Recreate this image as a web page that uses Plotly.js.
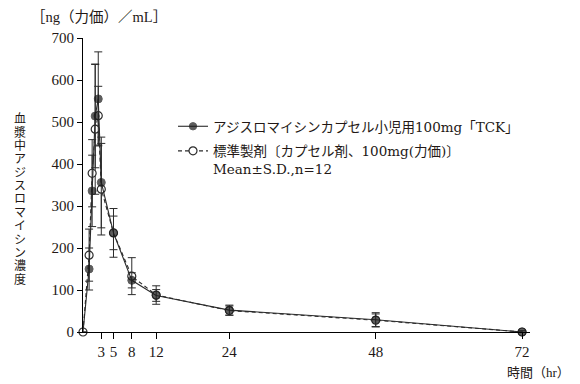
<!DOCTYPE html>
<html>
<head>
<meta charset="utf-8">
<script src="https://cdn.plot.ly/plotly-3.0.1.min.js"></script>
<style>
  html, body { margin: 0; padding: 0; background: #fff; }
  #chart { width: 580px; height: 384px; }
</style>
</head>
<body>
<div id="chart"></div>
<script>
// ---- data ----
const times   = [0, 1, 1.5, 2, 2.5, 3, 5, 8, 12, 24, 48, 72];
const tckMean = [0, 150, 336, 514, 555, 356, 236, 123, 87, 52, 29, 0];
const tckSD   = [0, 50, 85, 123, 112, 108, 40, 18, 14, 12, 17, 3];
const stdMean = [0, 183, 378, 483, 515, 340, 236, 133, 88, 51, 28, 0];
const stdSD   = [0, 62, 80, 155, 70, 109, 58, 44, 22, 11, 15, 3];
const xTicks  = [3, 5, 8, 12, 24, 48, 72];
const yTicks  = [0, 100, 200, 300, 400, 500, 600, 700];
const tckName = 'アジスロマイシンカプセル小児用100mg「TCK」';
const stdName = '標準製剤〔カプセル剤、100mg(力価)〕<br>Mean±S.D.,n=12';
const yTitle  = '血漿中アジスロマイシン濃度';
const unitText = '［ng（力価）／mL］';
const xTitle  = '時間（hr）';

const FONT = '"Liberation Serif", "Noto Sans CJK JP", serif';
const LEGFONT = '"DejaVu Serif", "Noto Sans CJK JP", serif';
const INK = '#231815';
const LINE = '#2b2b2b';

const stdTrace = {
  x: times, y: stdMean, name: stdName, type: 'scatter', mode: 'lines+markers',
  legendgroup: 'std', legendrank: 2, cliponaxis: false,
  line: { color: LINE, width: 1.1, dash: '4px,3px' },
  marker: { symbol: 'circle', size: 8, color: '#ffffff', line: { color: LINE, width: 1.2 } },
  error_y: { type: 'data', array: stdSD, visible: true, color: LINE, thickness: 1, width: 4 }
};
const tckTrace = {
  x: times, y: tckMean, name: tckName, type: 'scatter', mode: 'lines+markers',
  legendgroup: 'tck', legendrank: 1, cliponaxis: false,
  line: { color: LINE, width: 1.1 },
  marker: { symbol: 'circle', size: times.map(t => t === 0 ? 0 : 8), color: '#1a1a1a', line: { color: '#1a1a1a', width: 1 } },
  error_y: { type: 'data', array: tckSD, visible: true, color: LINE, thickness: 1, width: 4 }
};

// vertical (stacked) y-axis title, one character per line
const annotations = [];
const chars = Array.from(yTitle);
const plotTop = 38, plotH = 294, plotLeft = 83, plotW = 447;
const firstY = 119, stepY = 13.4;
chars.forEach((c, i) => {
  const py = firstY + i * stepY;
  annotations.push({
    xref: 'paper', yref: 'paper',
    x: (20 - plotLeft) / plotW, y: (plotTop + plotH - py) / plotH,
    xanchor: 'center', yanchor: 'middle', showarrow: false,
    text: c, font: { family: FONT, size: 12, color: INK }
  });
});
annotations.push({
  xref: 'paper', yref: 'paper',
  x: (29 - plotLeft) / plotW, y: (plotTop + plotH - 17) / plotH,
  xanchor: 'left', yanchor: 'middle', showarrow: false,
  text: unitText, font: { family: FONT, size: 14.5, color: INK }
});
annotations.push({
  xref: 'paper', yref: 'paper',
  x: (538 - plotLeft) / plotW, y: (plotTop + plotH - 372) / plotH,
  xanchor: 'center', yanchor: 'middle', showarrow: false,
  text: xTitle, font: { family: FONT, size: 13, color: INK }
});

const layout = {
  width: 580, height: 384,
  margin: { l: plotLeft, r: 580 - plotLeft - plotW, t: plotTop, b: 384 - plotTop - plotH, pad: 0 },
  paper_bgcolor: '#ffffff', plot_bgcolor: '#ffffff',
  font: { family: FONT, color: INK, size: 15 },
  showlegend: true,
  legend: {
    x: (173 - plotLeft) / plotW, y: (plotTop + plotH - 111) / plotH,
    xanchor: 'left', yanchor: 'top',
    bgcolor: 'rgba(0,0,0,0)', borderwidth: 0,
    font: { family: LEGFONT, size: 13.5, color: INK },
    valign: 'top', traceorder: 'grouped', tracegroupgap: 4
  },
  xaxis: {
    range: [0, 73.3], showgrid: false, zeroline: false,
    showline: true, linecolor: '#000', linewidth: 1,
    ticks: 'outside', ticklen: 6, tickwidth: 1, tickcolor: '#000',
    tickmode: 'array', tickvals: xTicks, ticktext: xTicks.map(String),
    tickfont: { family: FONT, size: 15, color: INK }, fixedrange: true
  },
  yaxis: {
    range: [0, 700], showgrid: false, zeroline: false,
    showline: true, linecolor: '#000', linewidth: 1,
    ticks: 'outside', ticklen: 5, tickwidth: 1, tickcolor: '#000',
    tickmode: 'array', tickvals: yTicks, ticktext: yTicks.map(String),
    tickfont: { family: FONT, size: 15, color: INK }, fixedrange: true
  },
  annotations: annotations
};

// open-circle series first, filled series drawn on top
Plotly.newPlot('chart', [stdTrace, tckTrace], layout, { staticPlot: true, displayModeBar: false });
</script>
</body>
</html>
